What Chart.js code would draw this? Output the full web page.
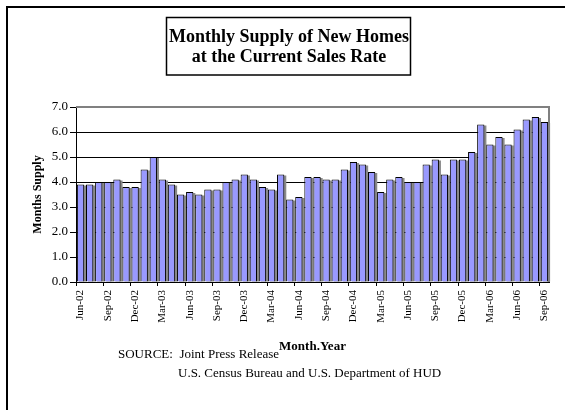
<!DOCTYPE html>
<html>
<head>
<meta charset="utf-8">
<script src="https://cdn.jsdelivr.net/npm/chart.js@4/dist/chart.umd.min.js"></script>
<style>
  html, body { margin: 0; padding: 0; background: #fff; }
  #wrap { width: 565px; height: 410px; position: relative; }
</style>
</head>
<body>
<div id="wrap"><canvas id="c" width="565" height="410"></canvas></div>
<script>
const months = [
  "Jun-02","Jul-02","Aug-02","Sep-02","Oct-02","Nov-02","Dec-02",
  "Jan-03","Feb-03","Mar-03","Apr-03","May-03","Jun-03","Jul-03","Aug-03","Sep-03","Oct-03","Nov-03","Dec-03",
  "Jan-04","Feb-04","Mar-04","Apr-04","May-04","Jun-04","Jul-04","Aug-04","Sep-04","Oct-04","Nov-04","Dec-04",
  "Jan-05","Feb-05","Mar-05","Apr-05","May-05","Jun-05","Jul-05","Aug-05","Sep-05","Oct-05","Nov-05","Dec-05",
  "Jan-06","Feb-06","Mar-06","Apr-06","May-06","Jun-06","Jul-06","Aug-06","Sep-06"
];
const monthsSupply = [
  3.9,3.9,4.0,4.0,4.1,3.8,3.8,
  4.5,5.0,4.1,3.9,3.5,3.6,3.5,3.7,3.7,4.0,4.1,4.3,
  4.1,3.8,3.7,4.3,3.3,3.4,4.2,4.2,4.1,4.1,4.5,4.8,
  4.7,4.4,3.6,4.1,4.2,4.0,4.0,4.7,4.9,4.3,4.9,4.9,
  5.2,6.3,5.5,5.8,5.5,6.1,6.5,6.6,6.4
];
const titleLines = ["Monthly Supply of New Homes", "at the Current Sales Rate"];
const sourceLines = ["SOURCE:  Joint Press Release", "U.S. Census Bureau and U.S. Department of HUD"];
const yAxisTitle = "Months Supply";
const xAxisTitle = "Month.Year";

const SERIF = "'Liberation Serif', 'Times New Roman', serif";

const decor = {
  id: 'decor',
  beforeDraw(chart) {
    const ctx = chart.ctx;
    ctx.save();
    ctx.fillStyle = '#fff';
    ctx.fillRect(0, 0, chart.width, chart.height);
    ctx.strokeStyle = '#000';
    ctx.lineWidth = 2;
    ctx.beginPath();
    ctx.moveTo(7, chart.height);
    ctx.lineTo(7, 7);
    ctx.lineTo(chart.width, 7);
    ctx.stroke();
    ctx.restore();
  },
  beforeDatasetsDraw(chart) {
    const ctx = chart.ctx;
    const meta = chart.getDatasetMeta(0);
    ctx.save();
    ctx.fillStyle = '#8a8a8a';
    meta.data.forEach(el => {
      const p = el.getProps(['x', 'y', 'base', 'width'], true);
      const left = p.x - p.width / 2 + 2;
      ctx.fillRect(left, p.y + 1, p.width, p.base - p.y - 1);
    });
    ctx.restore();
  },
  afterDatasetsDraw(chart) {
    const ctx = chart.ctx;
    const a = chart.chartArea;
    ctx.save();
    ctx.strokeStyle = '#808080';
    ctx.lineWidth = 2;
    ctx.beginPath();
    ctx.moveTo(a.left, a.top);
    ctx.lineTo(a.right, a.top);
    ctx.lineTo(a.right, a.bottom);
    ctx.stroke();
    ctx.restore();
  },
  afterDraw(chart) {
    const ctx = chart.ctx;
    ctx.save();
    ctx.strokeStyle = '#000';
    ctx.lineWidth = 1.5;
    ctx.strokeRect(166.5, 17.5, 244, 57.5);
    ctx.fillStyle = '#000';
    ctx.font = "bold 18px " + SERIF;
    ctx.textAlign = 'center';
    ctx.textBaseline = 'alphabetic';
    ctx.fillText(titleLines[0], 289, 42);
    ctx.fillText(titleLines[1], 289, 62);
    ctx.font = "13px " + SERIF;
    ctx.textAlign = 'left';
    ctx.fillText(sourceLines[0], 118, 358);
    ctx.fillText(sourceLines[1], 178, 377);
    ctx.restore();
  }
};

new Chart(document.getElementById('c'), {
  type: 'bar',
  data: {
    labels: months,
    datasets: [{
      data: monthsSupply,
      backgroundColor: '#9999FF',
      borderColor: '#000',
      borderWidth: 1,
      categoryPercentage: 0.8,
      barPercentage: 1.0
    }]
  },
  options: {
    responsive: false,
    animation: false,
    layout: { padding: { left: 0, top: 107, right: 16, bottom: 0 } },
    plugins: { legend: { display: false }, tooltip: { enabled: false }, title: { display: false } },
    scales: {
      x: {
        offset: true,
        grid: {
          offset: true,
          drawOnChartArea: false,
          drawTicks: true,
          tickLength: 4,
          color: c => (c.index % 3 === 0 ? '#000' : 'rgba(0,0,0,0)'),
          tickColor: c => (c.index % 3 === 0 ? '#000' : 'rgba(0,0,0,0)')
        },
        border: { display: true, color: '#000', width: 1 },
        ticks: {
          autoSkip: false,
          minRotation: 90,
          maxRotation: 90,
          padding: 4,
          color: '#000',
          font: { family: SERIF, size: 11 },
          callback: function (v, i) { return i % 3 === 0 ? months[i] : ''; }
        },
        title: {
          display: true,
          text: xAxisTitle,
          color: '#000',
          font: { family: SERIF, size: 13, weight: 'bold' },
          padding: { top: 0, bottom: 56 }
        },
        afterFit: s => { s.height = 128; }
      },
      y: {
        min: 0,
        max: 7,
        grid: {
          color: c => (c.tick && c.tick.value === 7 ? 'rgba(0,0,0,0)' : '#000'),
          tickColor: '#000',
          tickLength: 6,
          lineWidth: 1
        },
        border: { display: true, color: '#000', width: 1 },
        ticks: {
          stepSize: 1,
          padding: 2,
          color: '#000',
          font: { family: SERIF, size: 13 },
          callback: v => Number(v).toFixed(1)
        },
        title: {
          display: true,
          text: yAxisTitle,
          color: '#000',
          font: { family: SERIF, size: 12, weight: 'bold' },
          padding: { top: 31, bottom: 0 }
        },
        afterFit: s => { s.width = 76; }
      }
    }
  },
  plugins: [decor]
});
</script>
</body>
</html>
